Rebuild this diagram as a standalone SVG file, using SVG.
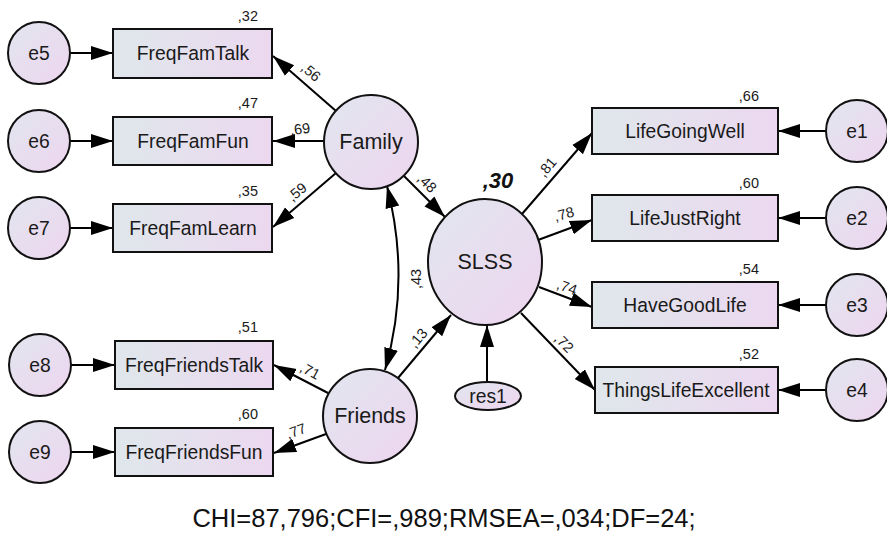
<svg xmlns="http://www.w3.org/2000/svg" width="887" height="533" viewBox="0 0 887 533">
  <defs>
    <linearGradient id="boxFill" x1="0" y1="0" x2="1" y2="0">
      <stop offset="0" stop-color="#dfe7eb"/>
      <stop offset="1" stop-color="#ecd8f0"/>
    </linearGradient>
    <linearGradient id="ovalFill" x1="0" y1="0" x2="1" y2="1">
      <stop offset="0" stop-color="#e1e6ef"/>
      <stop offset="1" stop-color="#eed5ef"/>
    </linearGradient>
    <marker id="arrow" markerUnits="userSpaceOnUse" markerWidth="23" markerHeight="16" refX="22" refY="8" orient="auto-start-reverse">
      <path d="M0,1 L22,8 L0,15 z" fill="#000"/>
    </marker>
    <style>
      .box { fill: url(#boxFill); stroke: #111; stroke-width: 2; }
      .oval { fill: url(#ovalFill); stroke: #111; stroke-width: 2; }
      .lbl { font-family: "Liberation Sans", Arial, sans-serif; font-size: 19.3px; fill: #1a1a1a; text-anchor: middle; dominant-baseline: central; }
      .latent { font-size: 21.5px; }
      .coef { font-family: "Liberation Sans", Arial, sans-serif; font-size: 14.5px; fill: #1a1a1a; }
      .r2 { text-anchor: end; }
      .path { font-family: "Liberation Sans", Arial, sans-serif; font-size: 14.5px; fill: #1a1a1a; text-anchor: middle; dominant-baseline: central; }
      .edge { fill: none; stroke: #000; stroke-width: 2; marker-end: url(#arrow); }
      .cov { fill: none; stroke: #000; stroke-width: 2; marker-start: url(#arrow); marker-end: url(#arrow); }
      .fit { font-family: "Liberation Sans", Arial, sans-serif; font-size: 25.5px; fill: #111; text-anchor: middle; }
    </style>
  </defs>

  <rect width="887" height="533" fill="#fff"/>

  <!-- connectors -->
  <g id="connectors">
    <!-- error terms to indicators -->
    <line class="edge" x1="70" y1="53" x2="113" y2="53"/>
    <line class="edge" x1="70" y1="141" x2="113" y2="141"/>
    <line class="edge" x1="70" y1="228" x2="113" y2="228"/>
    <line class="edge" x1="71" y1="365" x2="115" y2="365"/>
    <line class="edge" x1="71" y1="452" x2="115" y2="452"/>
    <line class="edge" x1="826" y1="131" x2="778" y2="131"/>
    <line class="edge" x1="826" y1="218" x2="778" y2="218"/>
    <line class="edge" x1="826" y1="305" x2="778" y2="305"/>
    <line class="edge" x1="826" y1="390" x2="778" y2="390"/>
    <!-- Family loadings -->
    <line class="edge" x1="336" y1="111" x2="273" y2="56"/>
    <line class="edge" x1="324" y1="141" x2="273" y2="141"/>
    <line class="edge" x1="336" y1="173" x2="273" y2="227"/>
    <!-- Friends loadings -->
    <line class="edge" x1="328" y1="393" x2="274" y2="365"/>
    <line class="edge" x1="326" y1="434" x2="274" y2="453"/>
    <!-- structural paths -->
    <line class="edge" x1="404" y1="176" x2="445" y2="217"/>
    <line class="edge" x1="398" y1="378" x2="451" y2="315"/>
    <line class="edge" x1="487" y1="382" x2="487" y2="325"/>
    <path class="cov" d="M387,186 Q411,280 385,370"/>
    <!-- SLSS loadings -->
    <line class="edge" x1="522" y1="214" x2="592" y2="133"/>
    <line class="edge" x1="538" y1="240" x2="592" y2="220"/>
    <line class="edge" x1="539" y1="287" x2="592" y2="307"/>
    <line class="edge" x1="521" y1="313" x2="595" y2="390"/>
  </g>

  <!-- path coefficients -->
  <g id="coefficients">
    <text class="path" transform="translate(311,72) rotate(40)">,56</text>
    <text class="path" transform="translate(300,129) rotate(-8)">,69</text>
    <text class="path" transform="translate(297,192) rotate(-40)">,59</text>
    <text class="path" transform="translate(427,183) rotate(45)">,48</text>
    <text class="path" transform="translate(416,279) rotate(-90)">,43</text>
    <text class="path" transform="translate(418,338) rotate(-50)">,13</text>
    <text class="path" transform="translate(310,371) rotate(28)">,71</text>
    <text class="path" transform="translate(296,431) rotate(-20)">,77</text>
    <text class="path" transform="translate(547,167) rotate(-50)">,81</text>
    <text class="path" transform="translate(564,214) rotate(-15)">,78</text>
    <text class="path" transform="translate(567,287) rotate(20)">,74</text>
    <text class="path" transform="translate(564,343) rotate(45)">,72</text>
  </g>

  <!-- left indicators: Family -->
  <g id="e5"><circle class="oval" cx="39" cy="53" r="31"/><text class="lbl" x="39" y="53">e5</text></g>
  <g id="FreqFamTalk"><rect class="box" x="113" y="29" width="159" height="49"/><text class="lbl" x="193" y="53">FreqFamTalk</text><text class="coef r2" x="258" y="21">,32</text></g>
  <g id="e6"><circle class="oval" cx="39" cy="141" r="31"/><text class="lbl" x="39" y="141">e6</text></g>
  <g id="FreqFamFun"><rect class="box" x="113" y="117" width="159" height="48"/><text class="lbl" x="193" y="141">FreqFamFun</text><text class="coef r2" x="258" y="108">,47</text></g>
  <g id="e7"><circle class="oval" cx="39" cy="228" r="31"/><text class="lbl" x="39" y="228">e7</text></g>
  <g id="FreqFamLearn"><rect class="box" x="113" y="204" width="159" height="48"/><text class="lbl" x="193" y="228">FreqFamLearn</text><text class="coef r2" x="258" y="196">,35</text></g>

  <!-- left indicators: Friends -->
  <g id="e8"><circle class="oval" cx="40" cy="365" r="31"/><text class="lbl" x="40" y="365">e8</text></g>
  <g id="FreqFriendsTalk"><rect class="box" x="115" y="341" width="158" height="48"/><text class="lbl" x="194" y="365">FreqFriendsTalk</text><text class="coef r2" x="258" y="332">,51</text></g>
  <g id="e9"><circle class="oval" cx="40" cy="452" r="31"/><text class="lbl" x="40" y="452">e9</text></g>
  <g id="FreqFriendsFun"><rect class="box" x="115" y="428" width="158" height="48"/><text class="lbl" x="194" y="452">FreqFriendsFun</text><text class="coef r2" x="258" y="419">,60</text></g>

  <!-- latent variables -->
  <g id="Family"><circle class="oval" cx="371" cy="142" r="47"/><text class="lbl latent" x="371" y="142">Family</text></g>
  <g id="Friends"><circle class="oval" cx="370" cy="416" r="47"/><text class="lbl latent" x="370" y="416">Friends</text></g>
  <g id="SLSS"><ellipse class="oval" cx="485" cy="262" rx="57" ry="63"/><text class="lbl latent" x="485" y="262">SLSS</text>
    <text x="498" y="188" font-family="Liberation Sans, Arial, sans-serif" font-size="22" font-weight="bold" font-style="italic" text-anchor="middle" fill="#111">,30</text></g>
  <g id="res1"><ellipse class="oval" cx="488" cy="396" rx="33" ry="14"/><text class="lbl" x="488" y="396">res1</text></g>

  <!-- right indicators: SLSS -->
  <g id="LifeGoingWell"><rect class="box" x="592" y="108" width="186" height="46"/><text class="lbl" x="685" y="131">LifeGoingWell</text><text class="coef r2" x="759" y="101">,66</text></g>
  <g id="e1"><circle class="oval" cx="857" cy="131" r="31"/><text class="lbl" x="857" y="131">e1</text></g>
  <g id="LifeJustRight"><rect class="box" x="592" y="195" width="186" height="46"/><text class="lbl" x="685" y="218">LifeJustRight</text><text class="coef r2" x="759" y="188">,60</text></g>
  <g id="e2"><circle class="oval" cx="857" cy="218" r="31"/><text class="lbl" x="857" y="218">e2</text></g>
  <g id="HaveGoodLife"><rect class="box" x="592" y="282" width="186" height="46"/><text class="lbl" x="685" y="305">HaveGoodLife</text><text class="coef r2" x="759" y="274">,54</text></g>
  <g id="e3"><circle class="oval" cx="857" cy="305" r="31"/><text class="lbl" x="857" y="305">e3</text></g>
  <g id="ThingsLifeExcellent"><rect class="box" x="595" y="367" width="183" height="46"/><text class="lbl" x="686" y="390">ThingsLifeExcellent</text><text class="coef r2" x="759" y="359">,52</text></g>
  <g id="e4"><circle class="oval" cx="857" cy="390" r="31"/><text class="lbl" x="857" y="390">e4</text></g>

  <!-- model fit -->
  <text class="fit" x="444" y="527">CHI=87,796;CFI=,989;RMSEA=,034;DF=24;</text>
</svg>
